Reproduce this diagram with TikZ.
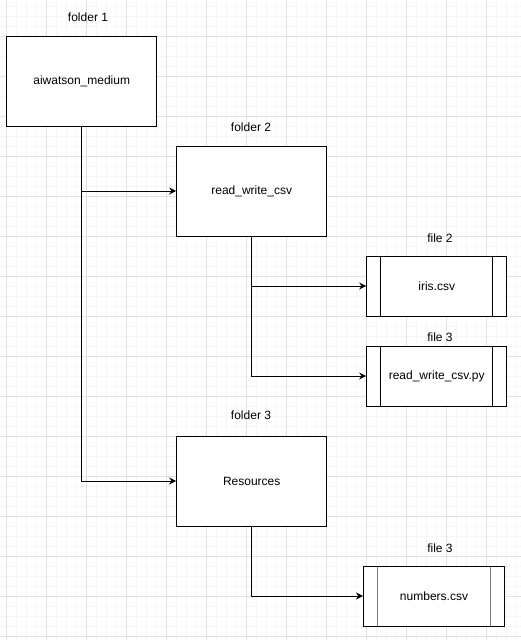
\documentclass[tikz,border=0pt]{standalone}
\usepackage{fontspec}
\setmainfont{Liberation Sans}
\usepackage{xcolor}
\usepackage{tikz}
\usetikzlibrary{arrows.meta}
\definecolor{gridminor}{HTML}{F6F6F6}
\definecolor{gridmajor}{HTML}{E2E2E2}
\tikzset{
    folder/.style={draw, line width=1pt, fill=white, minimum width=150, minimum height=90, font=\fontsize{12}{14}\selectfont},
    filebox/.style={draw, line width=1pt, fill=white, minimum width=140, minimum height=60, font=\fontsize{12}{14}\selectfont,
        path picture={
            \draw[line width=1pt, barcolor] ([xshift=14pt]path picture bounding box.north west) -- ([xshift=14pt]path picture bounding box.south west);
            \draw[line width=1pt, barcolor] ([xshift=-14pt]path picture bounding box.north east) -- ([xshift=-14pt]path picture bounding box.south east);
        }},
    barcolor/.style={black},
    caption/.style={font=\fontsize{12}{14}\selectfont},
    link/.style={line width=1pt, -{Stealth[length=7pt,width=7pt]}}
}

\begin{document}
\begin{tikzpicture}[x=1pt, y=-1pt]
\useasboundingbox (0,0) rectangle (521,640);
% Background grid
\foreach \gx in {-3.5,6.5,...,521} {\draw[gridminor, line width=0.7pt] (\gx,0) -- (\gx,640);}
\foreach \gy in {6,16,...,640} {\draw[gridminor, line width=0.7pt] (0,\gy) -- (521,\gy);}
\foreach \gx in {6.5,46.5,...,521} {\draw[gridmajor, line width=0.8pt] (\gx,0) -- (\gx,640);}
\foreach \gy in {36,76,...,640} {\draw[gridmajor, line width=0.8pt] (0,\gy) -- (521,\gy);}

% Folders
\node[folder] (aiw) at (81.7,81) {aiwatson\_medium};
\node[caption] at (88,17) {folder 1};
\node[folder] (rwc) at (251.7,191) {read\_write\_csv};
\node[caption] at (251,127) {folder 2};
\node[folder] (res) at (251.7,481) {Resources};
\node[caption] at (251,415) {folder 3};

% Files
\node[filebox] (iris) at (436.7,286) {iris.csv};
\node[caption] at (440,238) {file 2};
\node[filebox] (rwcpy) at (436.7,376) {read\_write\_csv.py};
\node[caption] at (440,337) {file 3};
\node[filebox, barcolor/.style={gray}, minimum width=141] (nums) at (434,596) {numbers.csv};
\node[caption] at (440,548) {file 3};

% Connectors
\draw[link] (aiw.south) |- (res.west);
\draw[link] (aiw.south |- rwc.west) -- (rwc.west);
\draw[link] (rwc.south) |- (rwcpy.west);
\draw[link] (rwc.south |- iris.west) -- (iris.west);
\draw[link] (res.south) |- (nums.west);
\end{tikzpicture}
\end{document}
